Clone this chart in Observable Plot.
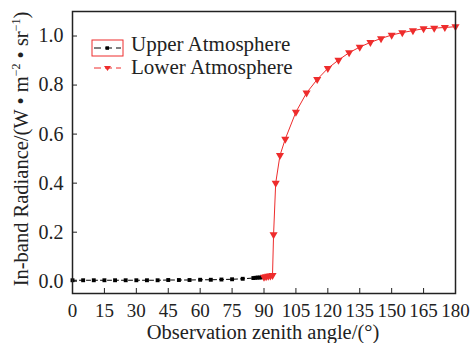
<!DOCTYPE html>
<html><head><meta charset="utf-8">
<script src="https://cdn.jsdelivr.net/npm/d3@7"></script>
<script src="https://cdn.jsdelivr.net/npm/@observablehq/plot@0.6"></script>
<style>
body{margin:0;background:#fff;}
#chart{position:relative;width:472px;height:343px;}
#chart svg text{font-family:"Liberation Serif","Times New Roman","DejaVu Serif",serif !important;}
</style></head>
<body><div id="chart"></div>
<script>
const upperAngle = [0,5,10,15,20,25,30,35,40,45,50,55,60,65,70,75,80,85,86,87,88,89,90];
const upperValue = [0.004,0.004,0.004,0.004,0.004,0.004,0.004,0.004,0.004,0.005,0.005,0.005,0.006,0.006,0.007,0.008,0.010,0.013,0.014,0.015,0.015,0.016,0.017];
const lowerAngle = [90,91,92,93,94,94.5,95.5,97.5,100,105,110,115,120,125,130,135,140,145,150,155,160,165,170,175,180];
const lowerValue = [0.017,0.019,0.021,0.022,0.024,0.19,0.40,0.513,0.58,0.69,0.768,0.823,0.868,0.902,0.932,0.955,0.974,0.99,1.004,1.014,1.022,1.03,1.032,1.035,1.038];
const xTicks = [0,15,30,45,60,75,90,105,120,135,150,165,180];
const yTicks = [0,0.2,0.4,0.6,0.8,1.0];
const seriesNames = ["Upper Atmosphere","Lower Atmosphere"];
const red = "#ee2c2c";

const upper = upperAngle.map((a,i)=>({a, v: upperValue[i]}));
const lower = lowerAngle.map((a,i)=>({a, v: lowerValue[i]}));

const plot = Plot.plot({
  width: 472, height: 343,
  marginLeft: 72, marginRight: 17, marginTop: 11, marginBottom: 50,
  style: {fontSize: "20px", background: "#fff", color: "#222"},
  x: {domain: [0,180], label: null},
  y: {domain: [-0.05,1.1], label: null},
  marks: [
    Plot.axisX({ticks: xTicks, tickSize: -5, tickPadding: 15, tickFormat: d=>String(d), fontSize: 19, stroke:"#222"}),
    Plot.axisY({ticks: yTicks, tickSize: -5, tickPadding: 14, tickFormat: d=>d.toFixed(1), fontSize: 20, stroke:"#222"}),
    Plot.line(upper, {x:"a", y:"v", stroke:"#000", strokeWidth:1, strokeDasharray:"4,3"}),
    Plot.dot(upper, {x:"a", y:"v", symbol:"square", r:2.2, fill:"#000"}),
    Plot.line(lower, {x:"a", y:"v", stroke:red, strokeWidth:1}),
    Plot.dot(lower, {x:"a", y:"v", symbol:"triangle", r:3, fill:red, rotate:180}),
    Plot.frame({stroke:"#222", strokeWidth:1.5})
  ]
});
document.getElementById("chart").appendChild(plot);

const svg = d3.select(plot);
// x label
svg.append("text").attr("x", 263).attr("y", 339).attr("text-anchor","middle")
  .style("font-size","20.5px").attr("fill","#222")
  .text("Observation zenith angle/(°)");
// y label with superscripts
const yl = svg.append("text").attr("transform","translate(28,149) rotate(-90)").attr("text-anchor","middle")
  .style("font-size","20.5px").attr("fill","#222");
yl.append("tspan").text("In-band Radiance/(W • m");
yl.append("tspan").attr("dy",-8).style("font-size","12px").text("−2");
yl.append("tspan").attr("dy",8).text(" • sr");
yl.append("tspan").attr("dy",-8).style("font-size","12px").text("−1");
yl.append("tspan").attr("dy",8).text(")");

// legend
const lg = svg.append("g").attr("transform","translate(92,0)");
lg.append("rect").attr("x",0).attr("y",40).attr("width",31).attr("height",16).attr("fill","none").attr("stroke",red).attr("stroke-width",1);
lg.append("line").attr("x1",2).attr("x2",29).attr("y1",48).attr("y2",48).attr("stroke","#000").attr("stroke-dasharray","7,4");
lg.append("rect").attr("x",13.5).attr("y",46.3).attr("width",3.5).attr("height",3.5).attr("fill","#000");
lg.append("text").attr("x",39).attr("y",51).attr("text-anchor","start").style("font-size","21px").attr("fill","#222").text(seriesNames[0]);
lg.append("line").attr("x1",2).attr("x2",29).attr("y1",68).attr("y2",68).attr("stroke",red).attr("stroke-dasharray","7,4");
lg.append("path").attr("d","M12,66 L19,66 L15.5,71 Z").attr("fill",red);
lg.append("text").attr("x",39).attr("y",74).attr("text-anchor","start").style("font-size","21px").attr("fill","#222").text(seriesNames[1]);
</script></body></html>
